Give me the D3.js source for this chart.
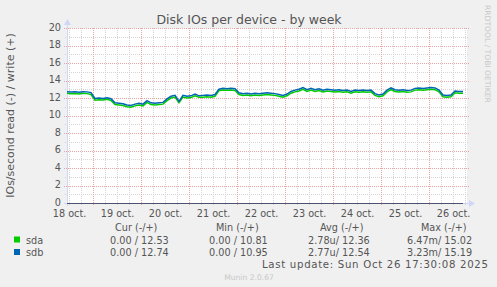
<!DOCTYPE html>
<html><head><meta charset="utf-8">
<script src="https://cdn.jsdelivr.net/npm/d3@7"></script>
<style>
html,body{margin:0;padding:0;background:#f0f0f0;}
svg{display:block;}
text{font-family:"DejaVu Sans",sans-serif;}
.mono{font-family:"DejaVu Sans Mono",monospace;}
</style></head><body>
<svg id="chart" width="497" height="287"></svg>
<script>
// ---- data ----
const seriesNames = ["sda", "sdb"];
const seriesColors = ["#00cc00", "#0066b3"];
const startTime = new Date(2025, 9, 18, 11, 0);
const endTime = new Date(2025, 9, 26, 18, 30);
const stepHours = 2;
const yTicks = [0, 2, 4, 6, 8, 10, 12, 14, 16, 18, 20];
const dayLabels = ["18 oct.", "19 oct.", "20 oct.", "21 oct.", "22 oct.", "23 oct.", "24 oct.", "25 oct.", "26 oct."];
const sdaWrite = [
  12.55, 12.5, 12.52, 12.45, 12.55, 12.5, 12.4,
  11.75, 11.8, 11.78, 11.85, 11.72,
  11.25, 11.2, 11.15, 11.0, 10.95, 11.1, 11.2, 11.1, 11.5, 11.25, 11.2, 11.25, 11.3,
  11.7, 12.0, 12.1, 11.45, 12.1, 12.0, 12.05, 12.25, 12.1,
  12.1, 12.15, 12.1, 12.2,
  12.85, 12.9, 12.88, 12.92, 12.85,
  12.4, 12.3, 12.35, 12.25, 12.35, 12.3, 12.35, 12.4, 12.35, 12.3, 12.2, 12.1, 12.25,
  12.55, 12.7, 12.8, 13.0, 12.75, 12.9, 12.75, 12.85, 12.7, 12.8, 12.75,
  12.7, 12.75, 12.65, 12.7, 12.55, 12.7, 12.65, 12.7, 12.65, 12.7, 12.3, 12.15, 12.25,
  12.7, 12.95, 12.75, 12.7, 12.75, 12.65, 12.7, 12.9, 12.95, 12.9, 12.95, 13.0, 12.95, 12.7,
  12.15, 12.1, 12.15, 12.6, 12.55, 12.53
];
const sdbWrite = [
  12.72, 12.68, 12.7, 12.66, 12.72, 12.7, 12.62,
  11.95, 12.0, 11.95, 12.02, 11.92,
  11.45, 11.4, 11.35, 11.2, 11.15, 11.3, 11.4, 11.3, 11.7, 11.45, 11.4, 11.45, 11.5,
  11.9, 12.2, 12.3, 11.6, 12.3, 12.2, 12.25, 12.45, 12.25,
  12.3, 12.35, 12.3, 12.4,
  13.0, 13.1, 13.05, 13.1, 13.05,
  12.6, 12.5, 12.55, 12.45, 12.55, 12.5, 12.55, 12.6, 12.55, 12.5, 12.4, 12.3, 12.45,
  12.75, 12.9, 13.0, 13.2, 12.95, 13.1, 12.95, 13.05, 12.9, 13.0, 12.95,
  12.9, 12.95, 12.85, 12.9, 12.75, 12.9, 12.85, 12.9, 12.85, 12.9, 12.5, 12.35, 12.45,
  12.9, 13.15, 12.95, 12.9, 12.95, 12.85, 12.9, 13.1, 13.15, 13.1, 13.15, 13.2, 13.15, 12.9,
  12.35, 12.3, 12.35, 12.8, 12.75, 12.74
];
const sdaRead = sdaWrite.map(() => 0);
const sdbRead = sdbWrite.map(() => 0);
const legendHeaders = ["Cur (-/+)", "Min (-/+)", "Avg (-/+)", "Max (-/+)"];
const sdaLegend = ["0.00 / 12.53", "0.00 / 10.81", "2.78u/ 12.36", "6.47m/ 15.02"];
const sdbLegend = ["0.00 / 12.74", "0.00 / 10.95", "2.77u/ 12.54", "3.23m/ 15.19"];
const titleText = "Disk IOs per device - by week";
const yLabel = "IOs/second read (-) / write (+)";
const lastUpdate = "Last update: Sun Oct 26 17:30:08 2025";

// ---- layout ----
const L = 67, R = 466, T = 28, B = 203;
const svg = d3.select("#chart");
const x = d3.scaleTime().domain([startTime, endTime]).range([L, R]);
const y = d3.scaleLinear().domain([0, 20]).range([B, T]);
const times = sdaWrite.map((_, i) => d3.timeHour.offset(startTime, i * stepHours));

svg.append("rect").attr("x", 0).attr("y", 0).attr("width", 497).attr("height", 287).attr("fill", "#f0f0f0");
svg.append("rect").attr("x", L).attr("y", T).attr("width", R - L + 1).attr("height", B - T).attr("fill", "#ffffff");

const grid = svg.append("g").attr("shape-rendering", "crispEdges");
d3.range(1, 20, 2).forEach(v => {
  grid.append("line").attr("x1", L - 2).attr("x2", R + 2).attr("y1", Math.round(y(v)) + 0.5).attr("y2", Math.round(y(v)) + 0.5)
    .attr("stroke", "#d4d4d4").attr("stroke-dasharray", "1,1");
});
d3.timeHour.every(6).range(startTime, endTime).forEach(t => {
  if (t.getHours() === 0) return;
  const px = Math.round(x(t)) + 0.5;
  grid.append("line").attr("x1", px).attr("x2", px).attr("y1", T).attr("y2", B + 2)
    .attr("stroke", "#d4d4d4").attr("stroke-dasharray", "1,1");
});
yTicks.forEach(v => {
  if (v === 0) return;
  grid.append("line").attr("x1", L - 3).attr("x2", R + 3).attr("y1", Math.round(y(v)) + 0.5).attr("y2", Math.round(y(v)) + 0.5)
    .attr("stroke", "#e8a4a4").attr("stroke-dasharray", "1,1");
});
d3.timeDay.range(startTime, endTime).forEach(t => {
  const px = Math.round(x(t)) + 0.5;
  grid.append("line").attr("x1", px).attr("x2", px).attr("y1", T).attr("y2", B + 3)
    .attr("stroke", "#e8a4a4").attr("stroke-dasharray", "1,1");
});

// axes lines
svg.append("line").attr("x1", L + 0.5).attr("x2", L + 0.5).attr("y1", B + 3).attr("y2", T - 4)
  .attr("stroke", "#cfd6f8").attr("shape-rendering", "crispEdges");
svg.append("path").attr("d", `M${L - 3},${T - 3}L${L + 4},${T - 3}L${L + 0.5},${T - 9}Z`).attr("fill", "#cfd6f8");
svg.append("line").attr("x1", L - 3).attr("x2", R + 4).attr("y1", B + 0.5).attr("y2", B + 0.5)
  .attr("stroke", "#cfd6f8").attr("shape-rendering", "crispEdges");
svg.append("path").attr("d", `M${R + 3},${B - 3}L${R + 3},${B + 4}L${R + 9},${B + 0.5}Z`).attr("fill", "#cfd6f8");

// tick labels via d3 axes
const yAxis = svg.append("g").attr("transform", `translate(${L - 6},-1)`)
  .call(d3.axisLeft(y).tickValues(yTicks).tickSize(0).tickPadding(0));
yAxis.select(".domain").remove();
yAxis.selectAll("text").attr("font-family", "DejaVu Sans").attr("font-size", 9.7).attr("fill", "#555");

const noonTicks = d3.timeDay.range(d3.timeDay.floor(startTime), endTime).map(d => d3.timeHour.offset(d, 12));
const xAxis = svg.append("g").attr("transform", `translate(0,${B + 5})`)
  .call(d3.axisBottom(x).tickValues(noonTicks).tickSize(0).tickPadding(2).tickFormat((d, i) => dayLabels[i]));
xAxis.select(".domain").remove();
xAxis.selectAll("text").attr("font-family", "DejaVu Sans").attr("font-size", 9.7).attr("fill", "#555");

// data lines
const line = d3.line().x((d, i) => x(times[i])).y(d => y(d)).curve(d3.curveLinear);
const plot = svg.append("g");
[[sdaRead, "#00cc00"], [sdbRead, "#4c5472"]].forEach(([arr, c]) => {
  plot.append("path").attr("d", line(arr.map(v => -v))).attr("fill", "none")
    .attr("stroke", c).attr("stroke-width", 1).attr("shape-rendering", "crispEdges")
    .attr("transform", "translate(0,0.5)");
});
[[sdaWrite, 0], [sdbWrite, 1]].forEach(([arr, k]) => {
  plot.append("path").attr("d", line(arr)).attr("fill", "none")
    .attr("stroke", seriesColors[k]).attr("stroke-width", 1.5).attr("stroke-linejoin", "miter");
});

// title & labels
svg.append("text").attr("x", 249).attr("y", 24).attr("text-anchor", "middle")
  .attr("font-size", 12.5).attr("fill", "#555").text(titleText);
svg.append("text").attr("transform", `translate(14,${(T + B) / 2}) rotate(-90)`).attr("text-anchor", "middle")
  .attr("font-size", 11).attr("fill", "#555").text(yLabel);
svg.append("text").attr("transform", `translate(485,5) rotate(90)`).attr("text-anchor", "start")
  .attr("font-size", 7.6).attr("fill", "#c8c8c8").text("RRDTOOL / TOBI OETIKER");

// legend
const headerX = [115, 216, 320, 421];
const valueX = [110, 209, 308, 407];
const lg = svg.append("g").attr("class", "mono").attr("font-size", 9.7).attr("fill", "#555");
legendHeaders.forEach((h, i) => lg.append("text").attr("x", headerX[i]).attr("y", 231).attr("xml:space", "preserve").text(h));
[sdaLegend, sdbLegend].forEach((vals, r) => {
  const yy = 243.5 + r * 12.5;
  svg.append("rect").attr("x", 14).attr("y", yy - 7).attr("width", 6).attr("height", 6).attr("fill", seriesColors[r]);
  lg.append("text").attr("x", 26).attr("y", yy).text(seriesNames[r]);
  vals.forEach((v, i) => lg.append("text").attr("x", valueX[i]).attr("y", yy).attr("xml:space", "preserve").text(v));
});
lg.append("text").attr("x", 262).attr("y", 268).attr("text-anchor", "start").attr("font-size", 10.2)
  .attr("textLength", 226).attr("lengthAdjust", "spacing")
  .attr("xml:space", "preserve").text(lastUpdate);
svg.append("text").attr("x", 249).attr("y", 280).attr("text-anchor", "middle").attr("font-size", 7.6)
  .attr("fill", "#c8c8c8").text("Munin 2.0.67");
</script>
</body></html>
